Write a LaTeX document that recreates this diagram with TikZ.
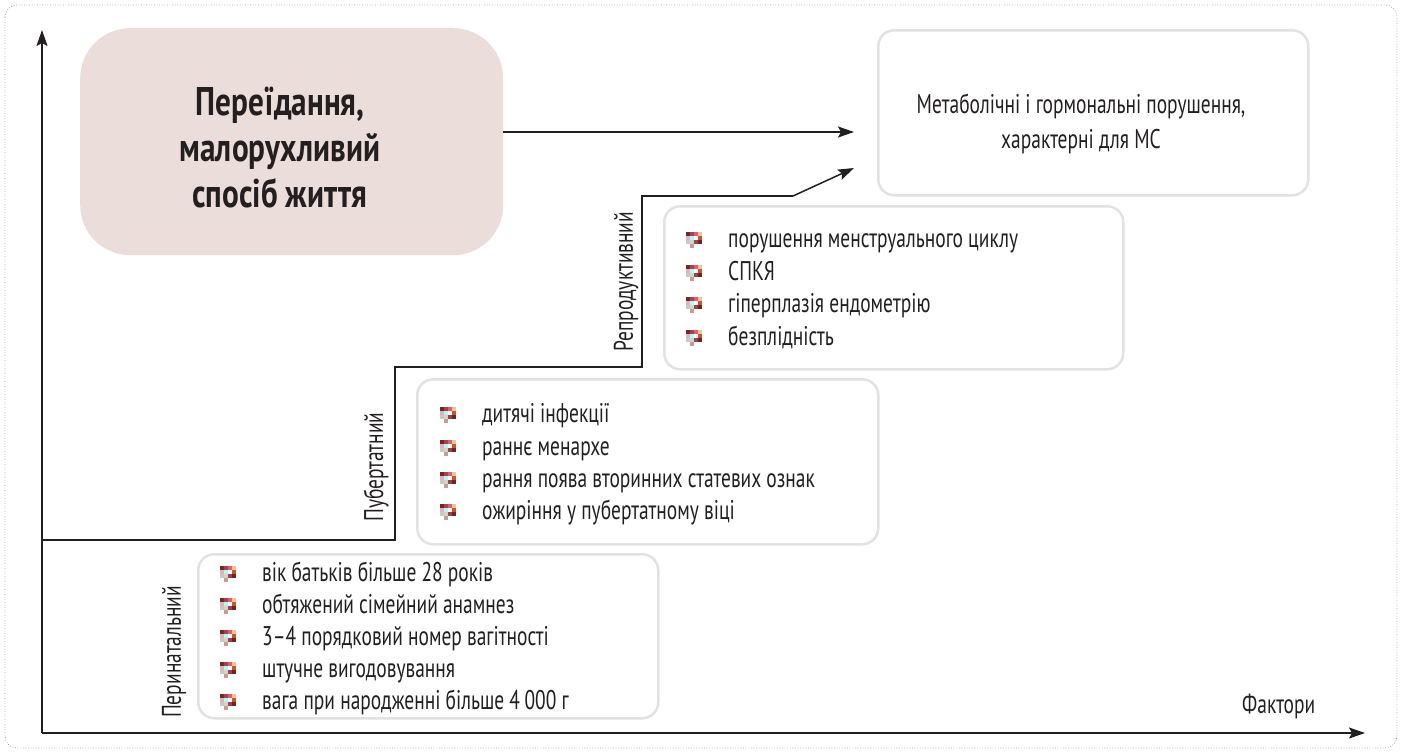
\documentclass[tikz,border=0pt]{standalone}
\usepackage{fontspec}
\setmainfont{PT Sans}[FakeStretch=0.72]
\newfontfamily\titlefont{PT Sans}[FakeStretch=0.78]
\usetikzlibrary{arrows.meta,calc}
\definecolor{ink}{HTML}{231F20}
\definecolor{pinkbg}{HTML}{EADDDA}
\definecolor{boxline}{HTML}{E2E2E2}
\definecolor{framegray}{HTML}{A5A5A5}
\definecolor{cA}{HTML}{6E2B22}\definecolor{cB}{HTML}{A94050}
\definecolor{cC}{HTML}{D9607A}\definecolor{cD}{HTML}{F6C48E}
\definecolor{cE}{HTML}{D9B5C5}\definecolor{cF}{HTML}{BFF3F3}
\definecolor{cG}{HTML}{FFFFFF}\definecolor{cH}{HTML}{C2582E}
\definecolor{cI}{HTML}{C9CBC3}\definecolor{cJ}{HTML}{D6D2CB}
\definecolor{cK}{HTML}{8E4A4A}\definecolor{cL}{HTML}{7A1F22}
\definecolor{cM}{HTML}{C99A8F}
\tikzset{
  lbox/.style={draw=boxline, line width=2.5pt, rounded corners=16pt, fill=white,
    anchor=north west, inner sep=0pt},
  pinkbox/.style={fill=pinkbg, rounded corners=50pt, anchor=north west, inner sep=0pt,
    minimum width=423pt, minimum height=227pt},
  item/.style={anchor=base west, inner sep=0pt, text=ink,
    font=\fontsize{27}{32}\selectfont},
  vlabel/.style={rotate=90, anchor=west, inner sep=0pt, text=ink,
    font=\fontsize{27}{32}\selectfont},
  axis/.style={draw=ink, line width=1.5pt, -{Stealth[length=16pt,width=11pt,inset=3pt]}},
  stair/.style={draw=ink, line width=1.5pt},
  bul/.pic={
    \fill[cA] (-8,-8) rectangle ++(4,4); \fill[cB] (-4,-8) rectangle ++(4,4);
    \fill[cC] (0,-8) rectangle ++(4,4);  \fill[cD] (4,-8) rectangle ++(4,4);
    \fill[cE] (-8,-4) rectangle ++(4,4); \fill[cF] (-4,-4) rectangle ++(4,4);
    \fill[cG] (0,-4) rectangle ++(4,4);  \fill[cH] (4,-4) rectangle ++(4,4);
    \fill[cI] (-8,0) rectangle ++(4,4);  \fill[cJ] (-4,0) rectangle ++(4,4);
    \fill[cK] (0,0) rectangle ++(4,4);   \fill[cL] (4,0) rectangle ++(4,4);
    \fill[cM] (-4,4) rectangle ++(4,4);
  }
}
\begin{document}
\begin{tikzpicture}[x=1pt,y=-1pt]
\useasboundingbox (0,0) rectangle (1402,753);
% outer frame
\draw[framegray, line width=0.8pt, dash pattern=on 0.8pt off 1.8pt, rounded corners=12pt]
  (5,5) rectangle (1397,748);

% boxes
\node[pinkbox] (pbox) at (80,28) {};
\node[text=ink, align=center, font=\titlefont\fontsize{40}{46}\selectfont\bfseries] (ptxt) at (280,148)
  {Переїдання,\\малорухливий\\спосіб життя};

\node[lbox, minimum width=430pt, minimum height=165pt] (msbox) at (877,29) {};
\node[text=ink, align=center, font=\fontsize{27}{35}\selectfont] (mstxt) at (1081,124)
  {Метаболічні і гормональні порушення,\\характерні для МС};

\node[lbox, minimum width=459pt, minimum height=163pt] (rbox) at (663,205) {};
\node[lbox, minimum width=461pt, minimum height=165pt] (ubox) at (416,378) {};
\node[lbox, minimum width=460pt, minimum height=164pt] (nbox) at (197,553) {};

% axes
\coordinate (O) at (42,733);
\coordinate (ytip) at (42,30);
\coordinate (xtip) at (1365,733);
\draw[axis] (O) -- (ytip);
\draw[axis] (O) -- (xtip);
\node[item] (fakt) at (1242,713) {Фактори};

% staircase
\coordinate (s0) at (42,540);
\coordinate (s1) at (395,540);
\coordinate (s2) at (395,367);
\coordinate (s3) at (642,367);
\coordinate (s4) at (642,196);
\coordinate (s5) at (793,196);
\coordinate (stip) at (854,168);
\draw[stair] (s0) -- (s1) -- (s2) -- (s3) -- (s4) -- (s5);
\draw[axis] (s5) -- (stip);

% top arrow
\coordinate (a1) at (854,132);
\draw[axis] (pbox.east |- a1) -- (a1);

% vertical labels
\node[vlabel] (lper) at (174,718) {Перинатальний};
\node[vlabel] (lpub) at (376,522) {Пубертатний};
\node[vlabel] (lrep) at (626,352) {Репродуктивний};

% perinatal items
\pic at (228,574) {bul}; \node[item] (n1) at (262,581) {вік батьків більше 28 років};
\pic at (228,606) {bul}; \node[item] (n2) at (262,613) {обтяжений сімейний анамнез};
\pic at (228,638) {bul}; \node[item] (n3) at (262,645) {3--4 порядковий номер вагітності};
\pic at (228,670) {bul}; \node[item] (n4) at (262,677) {штучне вигодовування};
\pic at (228,702) {bul}; \node[item] (n5) at (262,709) {вага при народженні більше 4\,000 г};

% pubertal items
\pic at (448,415) {bul}; \node[item] (u1) at (482,422) {дитячі інфекції};
\pic at (448,448) {bul}; \node[item] (u2) at (482,455) {раннє менархе};
\pic at (448,480) {bul}; \node[item] (u3) at (482,487) {рання поява вторинних статевих ознак};
\pic at (448,512) {bul}; \node[item] (u4) at (482,519) {ожиріння у пубертатному віці};

% reproductive items
\pic at (694,240) {bul}; \node[item] (r1) at (728,247) {порушення менструального циклу};
\pic at (694,273) {bul}; \node[item] (r2) at (728,280) {СПКЯ};
\pic at (694,305) {bul}; \node[item] (r3) at (728,312) {гіперплазія ендометрію};
\pic at (694,338) {bul}; \node[item] (r4) at (728,345) {безплідність};
\end{tikzpicture}
\end{document}
